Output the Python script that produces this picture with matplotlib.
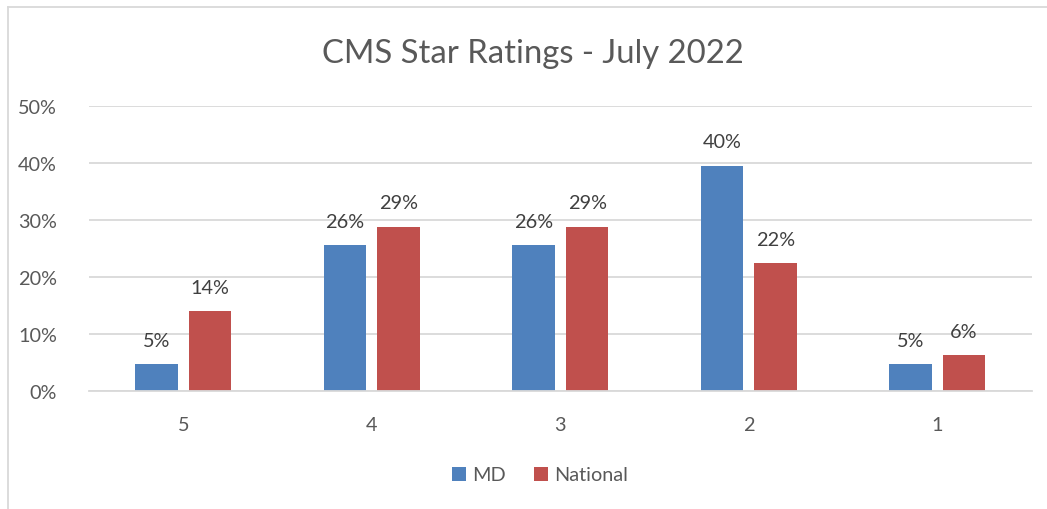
import matplotlib
matplotlib.use("Agg")
import matplotlib.pyplot as plt
from matplotlib.patches import Patch
from matplotlib.lines import Line2D
import numpy as np

# data
stars = ["5", "4", "3", "2", "1"]
md = [4.6, 25.6, 25.6, 39.5, 4.6]
national = [13.9, 28.8, 28.8, 22.4, 6.2]
md_labels = ["5%", "26%", "26%", "40%", "5%"]
national_labels = ["14%", "29%", "29%", "22%", "6%"]
yticks = [0, 10, 20, 30, 40, 50]

blue = "#4F81BD"
red = "#C0504D"
grid_col = "#D9D9D9"

plt.rcParams["font.family"] = ["Lato", "DejaVu Sans"]

W, H = 1047, 510
fig = plt.figure(figsize=(W / 100, H / 100), dpi=100)
ax = fig.add_axes([89 / W, 1 - 391.7 / H, (1031.5 - 89) / W, (391.7 - 106.7) / H])

x = np.arange(len(stars))
bw = 0.225
gap = 0.06
off = (bw + gap) / 2

b1 = ax.bar(x - off, md, bw, color=blue, zorder=3)
b2 = ax.bar(x + off, national, bw, color=red, zorder=3)

# data labels above the bars
for bars, labs in ((b1, md_labels), (b2, national_labels)):
    for rect, lab in zip(bars, labs):
        ax.annotate(lab, (rect.get_x() + rect.get_width() / 2, rect.get_height()),
                    xytext=(0, 13), textcoords="offset points",
                    ha="center", va="baseline", fontsize=14.3, color="#404040")

ax.set_xlim(-0.5, len(stars) - 0.5)
ax.set_ylim(0, 50)
ax.set_yticks(yticks)
ax.set_yticklabels([f"{v}%" for v in yticks])
ax.set_xticks(x)
ax.set_xticklabels(stars)
ax.tick_params(axis="both", length=0, labelsize=14.3, labelcolor="#595959")
ax.tick_params(axis="y", pad=23)
ax.tick_params(axis="x", pad=18)
ax.grid(axis="y", color=grid_col, linewidth=1.3, zorder=0)
for s in ["top", "right", "left"]:
    ax.spines[s].set_visible(False)
ax.spines["bottom"].set_color(grid_col)
ax.spines["bottom"].set_linewidth(1.3)
ax.spines["bottom"].set_zorder(4)

fig.text(533 / W, 1 - 63 / H, "CMS Star Ratings - July 2022", ha="center",
         va="baseline", fontsize=23.7, color="#595959")

handles = [Patch(facecolor=blue, label="MD"), Patch(facecolor=red, label="National")]
fig.legend(handles=handles, loc="center", bbox_to_anchor=(540 / W, 1 - 476 / H),
           ncol=2, frameon=False, fontsize=14.3, labelcolor="#595959",
           handlelength=0.7, handleheight=0.7, handletextpad=0.3, columnspacing=1.4)

# chart border (left and top edges visible in the reference)
fig.add_artist(Line2D([7.5 / W, 7.5 / W], [0, 1 - 8 / H], transform=fig.transFigure,
                      color=grid_col, linewidth=1.3))
fig.add_artist(Line2D([7.5 / W, 1], [1 - 8 / H, 1 - 8 / H], transform=fig.transFigure,
                      color=grid_col, linewidth=1.3))

fig.savefig("out.png", dpi=100)
